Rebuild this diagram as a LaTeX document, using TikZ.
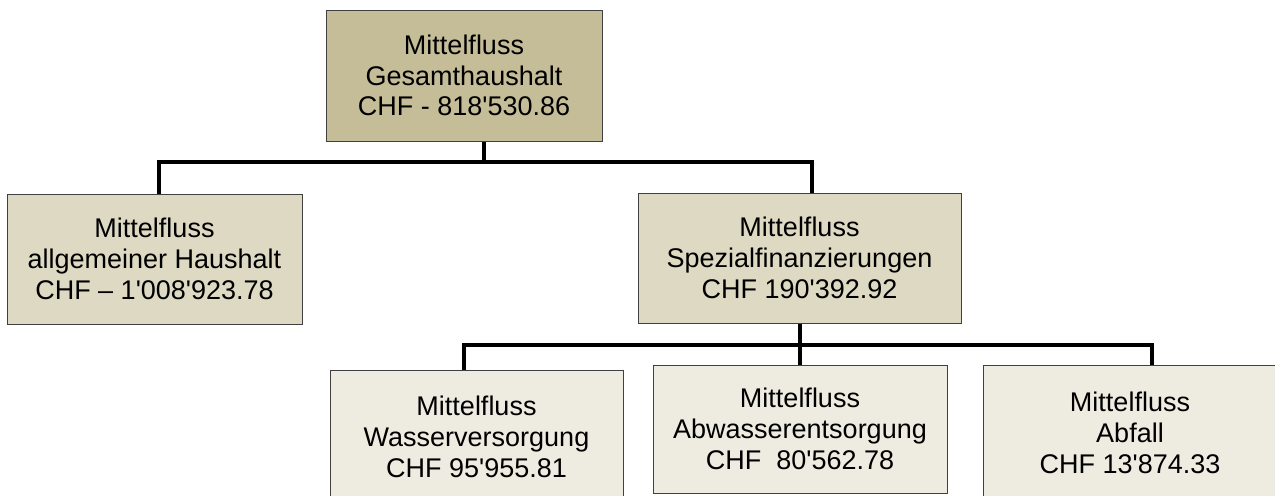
\documentclass[tikz,border=0pt]{standalone}
\usepackage{fontspec}
\setmainfont{Liberation Sans}[Ligatures=TeXOff]
\definecolor{topc}{HTML}{C4BD97}
\definecolor{midc}{HTML}{DDD9C3}
\definecolor{lowc}{HTML}{EEECE1}
\definecolor{edgec}{HTML}{404040}
\tikzset{
  orgbox/.style={draw=edgec, line width=0.5pt, rectangle, align=center, inner sep=0pt,
    font=\fontsize{13.5}{15.4}\selectfont},
  conn/.style={draw=black, line width=2pt}
}
\begin{document}
\begin{tikzpicture}[x=0.5pt,y=-0.5pt]
\clip (0,0) rectangle (1275,495);
\fill[white] (0,0) rectangle (1275,495);
% nodes
\node[orgbox, fill=topc, minimum width=138pt, minimum height=65.5pt] (top) at (464,75.5)
  {Mittelfluss\\Gesamthaushalt\\CHF - 818'530.86};
\node[orgbox, fill=midc, minimum width=147.5pt, minimum height=65pt] (left) at (154.5,259)
  {Mittelfluss\\allgemeiner Haushalt\\CHF – 1'008'923.78};
\node[orgbox, fill=midc, minimum width=161.5pt, minimum height=65pt] (mid) at (799.5,258)
  {Mittelfluss\\Spezialfinanzierungen\\CHF 190'392.92};
\node[orgbox, fill=lowc, minimum width=146.5pt, minimum height=67pt] (wasser) at (476.5,437)
  {Mittelfluss\\Wasserversorgung\\CHF 95'955.81};
\node[orgbox, fill=lowc, minimum width=147pt, minimum height=64pt] (abw) at (800,429)
  {Mittelfluss\\Abwasserentsorgung\\CHF~~80'562.78};
\node[orgbox, fill=lowc, minimum width=147pt, minimum height=68pt] (abf) at (1130,433)
  {Mittelfluss\\Abfall\\CHF 13'874.33};
% bus coordinates
\coordinate (b1L) at (159,162);
\coordinate (b1T) at (484,162);
\coordinate (b1R) at (812,162);
\coordinate (b2L) at (464,345);
\coordinate (b2M) at (800,345);
\coordinate (b2R) at (1152,345);
% connectors
\draw[conn] (b1L |- left.north) -- (b1L) -- (b1R) -- (b1R |- mid.north);
\draw[conn] (top.south -| b1T) -- (b1T);
\draw[conn] (b2L |- wasser.north) -- (b2L) -- (b2R) -- (b2R |- abf.north);
\draw[conn] (mid.south -| b2M) -- (abw.north -| b2M);
\end{tikzpicture}
\end{document}
